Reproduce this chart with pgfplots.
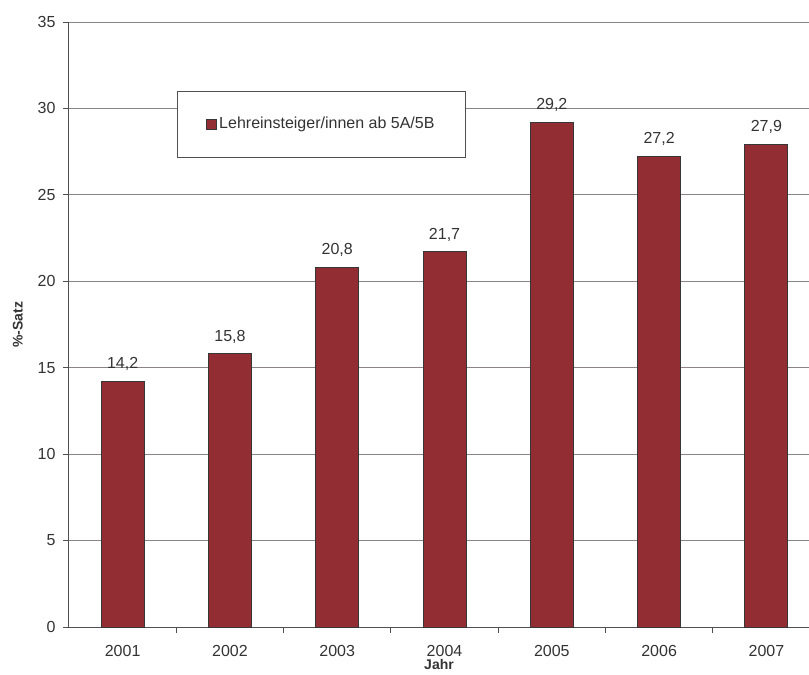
\documentclass[border=0pt]{standalone}
\usepackage{fontspec}
\setmainfont{Liberation Sans}
\usepackage{pgfplots}
\pgfplotsset{compat=1.18}
\definecolor{barred}{RGB}{146,45,52}
\definecolor{txt}{RGB}{51,51,51}
\definecolor{gridc}{RGB}{140,132,132}
\definecolor{axisc}{RGB}{80,80,80}
\definecolor{edgec}{RGB}{55,55,55}
\begin{document}
\fontsize{16bp}{19bp}\selectfont
\begin{tikzpicture}
\begin{axis}[
 width=740bp, height=605bp, scale only axis,
 xmin=-0.5, xmax=6.397,
 ymin=0, ymax=35,
 ytick={0,5,...,35},
 xtick={0,...,6},
 xticklabels={2001,2002,2003,2004,2005,2006,2007},
 minor xtick={0.5,1.5,2.5,3.5,4.5,5.5},
 major x tick style={draw=none},
 minor x tick style={draw=axisc, line width=0.8bp},
 y tick style={draw=axisc, line width=0.8bp},
 tick align=outside,
 major tick length=6bp, minor tick length=6bp,
 ymajorgrids, major grid style={draw=gridc, line width=0.8bp},
 axis x line*=bottom, axis y line*=left,
 axis line style={draw=axisc, line width=1bp, -},
 ticklabel style={font=\fontsize{16bp}{19bp}\selectfont, text=txt},
 xticklabel style={yshift=-7bp},
 yticklabel style={xshift=-2bp},
 /pgf/number format/assume math mode=true,
 xlabel={\textbf{Jahr}},
 ylabel={\textbf{\%-Satz}},
 label style={font=\fontsize{14bp}{17bp}\selectfont, text=txt},
 xlabel style={yshift=8bp},
 ylabel style={yshift=4bp},
 ybar, bar width=43bp,
 nodes near coords,
 nodes near coords style={font=\fontsize{16bp}{19bp}\selectfont, text=txt, yshift=5bp, /pgf/number format/.cd, use comma, fixed, fixed zerofill, precision=1, assume math mode=true},
 legend style={at={(0.146,0.886)}, anchor=north west, draw=axisc, line width=0.8bp,
   inner xsep=29bp, inner ysep=24bp, nodes={inner sep=2bp, text=txt},
   font=\fontsize{16bp}{19bp}\selectfont},
 legend image code/.code={\draw[#1, line width=0.8bp] (0bp,-5bp) rectangle (10bp,5bp);},
 clip=false,
]
\addplot[fill=barred, draw=edgec, line width=1bp] coordinates {
 (0,14.2) (1,15.8) (2,20.8) (3,21.7) (4,29.2) (5,27.2) (6,27.9)};
\addlegendentry{Lehreinsteiger/innen ab 5A/5B}
\coordinate (bl) at (rel axis cs:0,0);
\coordinate (tr) at (rel axis cs:1,1);
\end{axis}
\pgfresetboundingbox
\path ([xshift=-69bp,yshift=-48bp]bl) rectangle ([yshift=22bp]tr);
\end{tikzpicture}
\end{document}
